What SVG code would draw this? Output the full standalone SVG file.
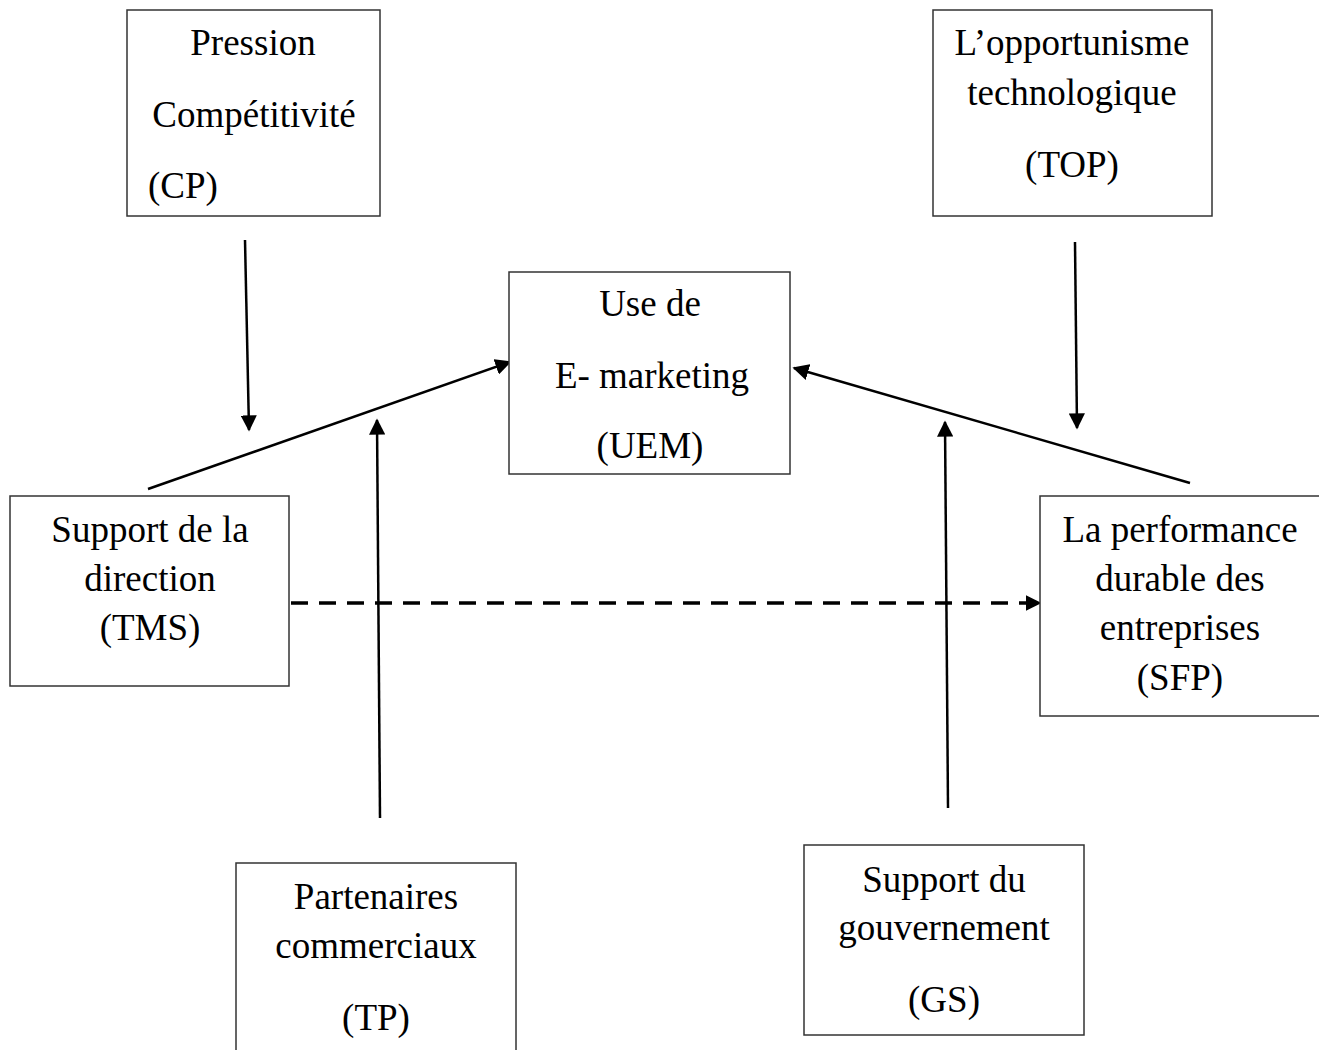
<svg xmlns="http://www.w3.org/2000/svg" width="1319" height="1050" viewBox="0 0 1319 1050">
  <style>
    .box { fill: #fff; stroke: #333; stroke-width: 1.5; }
    .lbl { font-family: "Liberation Serif", "Times New Roman", serif; font-size: 37px; fill: #000; text-anchor: middle; }
    .arr { stroke: #000; stroke-width: 2.5; fill: none; marker-end: url(#head); }
    .dash { stroke-width: 3.5; stroke-dasharray: 17 11; marker-end: url(#headSmall); }
  </style>
  <defs>
    <marker id="head" viewBox="0 0 10 10" refX="9" refY="5" markerWidth="6.5" markerHeight="6.5" markerUnits="strokeWidth" orient="auto">
      <path d="M0,0 L10,5 L0,10 z" fill="#000"/>
    </marker>
    <marker id="headSmall" viewBox="0 0 10 10" refX="9" refY="5" markerWidth="4.5" markerHeight="4.5" markerUnits="strokeWidth" orient="auto">
      <path d="M0,0 L10,5 L0,10 z" fill="#000"/>
    </marker>
  </defs>
  <rect width="1319" height="1050" fill="#fff"/>

  <g id="connectors">
    <line class="arr" x1="245" y1="240" x2="249" y2="430"/>
    <line class="arr" x1="1075" y1="242" x2="1077" y2="428"/>
    <line class="arr" x1="148" y1="489" x2="510" y2="362"/>
    <line class="arr" x1="1190" y1="483" x2="794" y2="368"/>
    <line class="arr" x1="380" y1="818" x2="377" y2="420"/>
    <line class="arr" x1="948" y1="808" x2="945" y2="422"/>
    <line class="arr dash" x1="291" y1="603" x2="1040" y2="603"/>
  </g>

  <g id="node-cp">
    <rect class="box" x="127" y="10" width="253" height="206"/>
    <text class="lbl" x="253" y="55">Pression</text>
    <text class="lbl" x="254" y="127">Compétitivité</text>
    <text class="lbl" x="183" y="198">(CP)</text>
  </g>

  <g id="node-top">
    <rect class="box" x="933" y="10" width="279" height="206"/>
    <text class="lbl" x="1072" y="55">L’opportunisme</text>
    <text class="lbl" x="1072" y="105">technologique</text>
    <text class="lbl" x="1072" y="177">(TOP)</text>
  </g>

  <g id="node-uem">
    <rect class="box" x="509" y="272" width="281" height="202"/>
    <text class="lbl" x="650" y="316">Use de</text>
    <text class="lbl" x="652" y="388">E- marketing</text>
    <text class="lbl" x="650" y="458">(UEM)</text>
  </g>

  <g id="node-tms">
    <rect class="box" x="10" y="496" width="279" height="190"/>
    <text class="lbl" x="150" y="542">Support de la</text>
    <text class="lbl" x="150" y="591">direction</text>
    <text class="lbl" x="150" y="640">(TMS)</text>
  </g>

  <g id="node-sfp">
    <rect class="box" x="1040" y="496" width="284" height="220"/>
    <text class="lbl" x="1180" y="542">La performance</text>
    <text class="lbl" x="1180" y="591">durable des</text>
    <text class="lbl" x="1180" y="640">entreprises</text>
    <text class="lbl" x="1180" y="690">(SFP)</text>
  </g>

  <g id="node-tp">
    <rect class="box" x="236" y="863" width="280" height="200"/>
    <text class="lbl" x="376" y="909">Partenaires</text>
    <text class="lbl" x="376" y="958">commerciaux</text>
    <text class="lbl" x="376" y="1030">(TP)</text>
  </g>

  <g id="node-gs">
    <rect class="box" x="804" y="845" width="280" height="190"/>
    <text class="lbl" x="944" y="892">Support du</text>
    <text class="lbl" x="944" y="940">gouvernement</text>
    <text class="lbl" x="944" y="1012">(GS)</text>
  </g>
</svg>
